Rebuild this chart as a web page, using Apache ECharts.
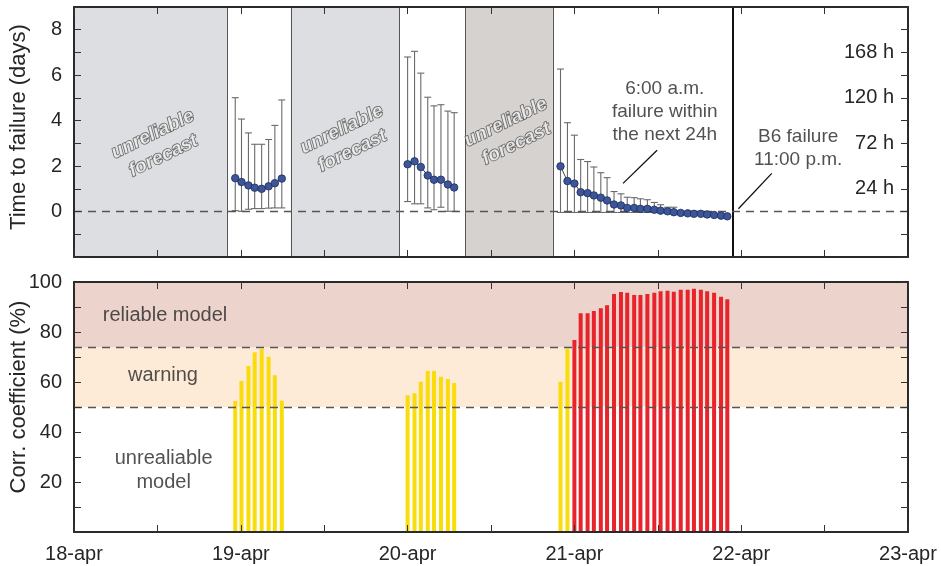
<!DOCTYPE html>
<html><head><meta charset="utf-8">
<script src="https://cdn.jsdelivr.net/npm/echarts@6/dist/echarts.min.js"></script>
<style>html,body{margin:0;padding:0;background:#fff}#c{width:941px;height:566px}</style>
</head><body><div id="c"></div>
<script>
// x values: hours since 18-apr 00:00
const dayLabels = ['18-apr','19-apr','20-apr','21-apr','22-apr','23-apr'];
const rightTickLabels = ['24 h','72 h','120 h','168 h']; // at 1,3,5,7 days

// Forecast group 1
const t1   = [23.2,24.1,25.1,26.0,27.0,28.0,28.9,29.9];
const ttf1 = [1.47,1.30,1.15,1.05,1.00,1.11,1.25,1.45];
const hi1  = [5.01,4.07,3.46,2.96,2.96,3.17,3.79,4.91];
const lo1  = [0.04,0.01,0.10,0.13,0.13,0.15,0.16,0.16];
const cc1  = [52.4,60.4,66.4,71.9,73.2,70.1,62.7,52.5];

// Forecast group 2
const t2   = [48.0,49.0,49.9,50.9,51.8,52.8,53.8,54.7];
const ttf2 = [2.08,2.21,1.96,1.59,1.40,1.40,1.19,1.06];
const hi2  = [6.80,7.05,6.09,5.03,4.65,4.70,4.42,4.35];
const lo2  = [0.44,0.34,0.34,0.16,0.08,0.19,0.01,0.01];
const cc2  = [54.7,55.5,60.1,64.4,64.4,62.1,61.2,59.6];

// Forecast group 3
const t3   = [70.0,71.0,72.0,72.9,73.9,74.8,75.8,76.7,77.7,78.7,79.6,80.6,81.5,82.5,83.5,84.4,85.4,86.3,87.3,88.3,89.2,90.2,91.1,92.1,93.1,94.0];
const ttf3 = [1.99,1.34,1.23,0.85,0.81,0.71,0.61,0.49,0.31,0.27,0.16,0.16,0.12,0.12,0.08,0.04,0.01,-0.03,-0.06,-0.08,-0.10,-0.10,-0.13,-0.15,-0.18,-0.21];
const hi3  = [6.27,3.91,3.36,2.29,2.20,1.96,1.71,1.49,0.88,0.78,0.63,0.61,0.56,0.52,0.40,0.30,0.19,0.19,null,null,null,null,null,null,null,null];
const lo3  = [-0.04,-0.04,-0.04,-0.04,-0.04,-0.04,-0.04,-0.04,-0.04,-0.04,-0.04,-0.04,-0.04,-0.04,-0.04,-0.04,-0.04,-0.04,null,null,null,null,null,null,null,null];
const cc3  = [60.1,73.3,76.8,87.5,87.5,88.4,89.5,90.7,95.2,96.0,95.7,94.8,94.8,95.2,95.7,96.3,96.5,96.1,96.9,96.9,97.3,96.9,96.3,95.7,94.1,93.1];

// periods (hours)
const greySpans = [[0,22.0],[31.2,46.8]];
const darkSpans = [[56.3,68.9]];
const periodEdges = [22.0,31.2,46.8,56.3,68.9];
const failureHour = 94.8;

// correlation thresholds
const warnLevel = 50, reliableLevel = 74;

const groups = [
  {t:t1, v:ttf1, hi:hi1, lo:lo1, cc:cc1},
  {t:t2, v:ttf2, hi:hi2, lo:lo2, cc:cc2},
  {t:t3, v:ttf3, hi:hi3, lo:lo3, cc:cc3}
];

const FONT = 'Liberation Sans, Arial, sans-serif';
const TXT = '#262626';
const frameLine = {show:true, onZero:false, lineStyle:{color:'#2a2a2a', width:2}};
const tickIn = {show:true, inside:true, length:7, lineStyle:{color:'#333', width:1}};

function xAx(grid, pos, labels) {
  return {
    type:'value', gridIndex:grid, position:pos, min:0, max:120, interval:12, z:10,
    axisLine: frameLine, axisTick: tickIn, splitLine:{show:false},
    axisLabel: labels ? {show:true, fontSize:20, fontFamily:FONT, color:TXT, margin:12,
      formatter: v => (v % 24 === 0 ? dayLabels[v/24] : '')} : {show:false}
  };
}

const errData = [];
const lineSeries = [];
const barData = [];
groups.forEach((g) => {
  const pts = [];
  g.t.forEach((t, i) => {
    pts.push([t, g.v[i]]);
    if (g.hi[i] != null) errData.push([t, g.hi[i], g.lo[i]]);
    barData.push([t, g.cc[i]]);
  });
  lineSeries.push({
    type:'line', xAxisIndex:0, yAxisIndex:0, data:pts, z:5,
    symbol:'circle', symbolSize:7.5, showSymbol:true,
    lineStyle:{color:'#444', width:1},
    itemStyle:{color:'#3c5699', borderColor:'#1e2c5c', borderWidth:0.8}
  });
});

const txtLabel = (text, extra) => Object.assign({
  show:true, position:'inside', formatter:text, fontFamily:FONT, fontSize:19, color:TXT, lineHeight:23, align:'center'
}, extra || {});

const forecastStyle = {fontStyle:'italic', fontWeight:'bold', fontSize:19, color:'#f5f5f5',
  textBorderColor:'#3a3a3a', textBorderWidth:1.4, lineHeight:24, rotate:26};

const option = {
  animation:false,
  backgroundColor:'#fff',
  grid:[
    {left:74, top:7, width:834, height:250, outerBoundsMode:'none', containLabel:false},
    {left:74, top:282, width:834, height:250, outerBoundsMode:'none', containLabel:false}
  ],
  xAxis:[ xAx(0,'bottom',false), xAx(0,'top',false), xAx(1,'bottom',true), xAx(1,'top',false) ],
  yAxis:[
    {type:'value', gridIndex:0, position:'left', min:-2, max:9, interval:1, z:10,
     axisLine:frameLine, axisTick:tickIn, splitLine:{show:false},
     axisLabel:{fontSize:20, fontFamily:FONT, color:TXT, margin:12,
       formatter: v => (v >= 0 && v % 2 === 0 ? String(v) : '')},
     name:'Time to failure (days)', nameLocation:'middle', nameGap:44, nameMoveOverlap:false,
     nameTextStyle:{fontSize:22, fontFamily:FONT, color:TXT, padding:[0,0,0,10]}},
    {type:'value', gridIndex:0, position:'right', min:-2, max:9, interval:1, z:10,
     axisLine:frameLine, axisTick:tickIn, splitLine:{show:false},
     axisLabel:{inside:true, fontSize:20, fontFamily:FONT, color:TXT, margin:14,
       formatter: v => (v > 0 && v % 2 === 1 ? rightTickLabels[(v-1)/2] : '')}},
    {type:'value', gridIndex:1, position:'left', min:0, max:100, interval:10, z:10,
     axisLine:frameLine, axisTick:tickIn, splitLine:{show:false},
     axisLabel:{fontSize:20, fontFamily:FONT, color:TXT, margin:12, showMinLabel:true, showMaxLabel:true,
       formatter: v => (v > 0 && v % 20 === 0 ? String(v) : '')},
     name:'Corr. coefficient (%)', nameLocation:'middle', nameGap:44, nameMoveOverlap:false,
     nameTextStyle:{fontSize:22, fontFamily:FONT, color:TXT, padding:[0,0,0,20]}},
    {type:'value', gridIndex:1, position:'right', min:0, max:100, interval:10, z:10,
     axisLine:frameLine, axisTick:tickIn, splitLine:{show:false}, axisLabel:{show:false}}
  ],
  series:[
    // top panel backgrounds
    {type:'line', xAxisIndex:0, yAxisIndex:0, data:[], z:1, silent:true,
     markArea:{silent:true, data:
       greySpans.map(s => [{xAxis:s[0], itemStyle:{color:'#dcdee2'}}, {xAxis:s[1]}])
       .concat(darkSpans.map(s => [{xAxis:s[0], itemStyle:{color:'#d6d2d0'}}, {xAxis:s[1]}]))
     }},
    // top panel lines
    {type:'line', xAxisIndex:0, yAxisIndex:0, data:[], z:2, silent:true,
     markLine:{silent:true, symbol:'none', label:{show:false}, animation:false,
       data: periodEdges.map(x => ({xAxis:x, lineStyle:{color:'#555', width:1, type:'solid'}}))
        .concat([{xAxis:failureHour, lineStyle:{color:'#111', width:2, type:'solid'}},
                 {yAxis:0, lineStyle:{color:'#555', width:1.4, type:[8,6]}}])
     }},
    // error bars
    {type:'custom', xAxisIndex:0, yAxisIndex:0, z:3, data:errData, encode:{x:0, y:[1,2]},
     renderItem:(params, api) => {
       const x = api.value(0);
       const top = api.coord([x, api.value(1)]);
       const bot = api.coord([x, api.value(2)]);
       const w = 3.5;
       const st = {stroke:'#6a6a6a', lineWidth:1.1};
       return {type:'group', children:[
         {type:'line', shape:{x1:top[0], y1:top[1], x2:bot[0], y2:bot[1]}, style:st},
         {type:'line', shape:{x1:top[0]-w, y1:top[1], x2:top[0]+w, y2:top[1]}, style:st},
         {type:'line', shape:{x1:bot[0]-w, y1:bot[1], x2:bot[0]+w, y2:bot[1]}, style:st}
       ]};
     }},
    ...lineSeries,
    // top annotations
    {type:'scatter', xAxisIndex:0, yAxisIndex:0, z:6, symbolSize:1, silent:true,
     itemStyle:{color:'rgba(0,0,0,0)'},
     data:[
       {value:[12.1, 2.92], label:txtLabel('unreliable\nforecast', forecastStyle)},
       {value:[39.3, 3.14], label:txtLabel('unreliable\nforecast', forecastStyle)},
       {value:[62.9, 3.45], label:txtLabel('unreliable\nforecast', forecastStyle)},
       {value:[85.0, 4.38], label:txtLabel('6:00 a.m.\nfailure within\nthe next 24h')},
       {value:[104.2, 2.77], label:txtLabel('B6 failure\n11:00 p.m.')}
     ],
     markLine:{silent:true, symbol:['none','triangle'], symbolSize:[0,[10,16]], label:{show:false},
       lineStyle:{color:'#111', width:1.3, type:'solid'},
       itemStyle:{color:'#111'},
       data:[
         [{coord:[83.9, 2.70]}, {coord:[79.0, 1.24]}],
         [{coord:[100.4, 1.68]}, {coord:[95.6, 0.12]}]
       ]}
    },
    // bottom panel bands
    {type:'line', xAxisIndex:2, yAxisIndex:2, data:[], z:1, silent:true,
     markArea:{silent:true, data:[
       [{yAxis:reliableLevel, itemStyle:{color:'#ecd4cc'}}, {yAxis:100}],
       [{yAxis:warnLevel, itemStyle:{color:'#fdebd7'}}, {yAxis:reliableLevel}]
     ]}},
    // bars
    {type:'custom', xAxisIndex:2, yAxisIndex:2, z:3, data:barData, encode:{x:0, y:1}, silent:true,
     renderItem:(params, api) => {
       const x = api.value(0), v = api.value(1);
       const p1 = api.coord([x, v]);
       const p0 = api.coord([x, 0]);
       const w = 4;
       return {type:'rect', shape:{x:p1[0]-w/2, y:p1[1], width:w, height:p0[1]-p1[1]},
               style:{fill: v >= reliableLevel ? '#e8232b' : '#fadc0a'}};
     }},
    // threshold lines + labels
    {type:'scatter', xAxisIndex:2, yAxisIndex:2, z:6, symbolSize:1, silent:true,
     itemStyle:{color:'rgba(0,0,0,0)'},
     data:[
       {value:[13.1, 86.8], label:txtLabel('reliable model', {fontSize:20})},
       {value:[12.8, 62.8], label:txtLabel('warning', {fontSize:20})},
       {value:[12.9, 24.8], label:txtLabel('unrealiable\nmodel', {fontSize:20, lineHeight:24})}
     ],
     markLine:{silent:true, symbol:'none', label:{show:false},
       lineStyle:{color:'#555', width:1.4, type:[8,6]},
       data:[{yAxis:warnLevel}, {yAxis:reliableLevel}]}
    }
  ]
};

const chart = echarts.init(document.getElementById('c'), null, {renderer:'canvas'});
chart.setOption(option);
</script>
</body></html>
